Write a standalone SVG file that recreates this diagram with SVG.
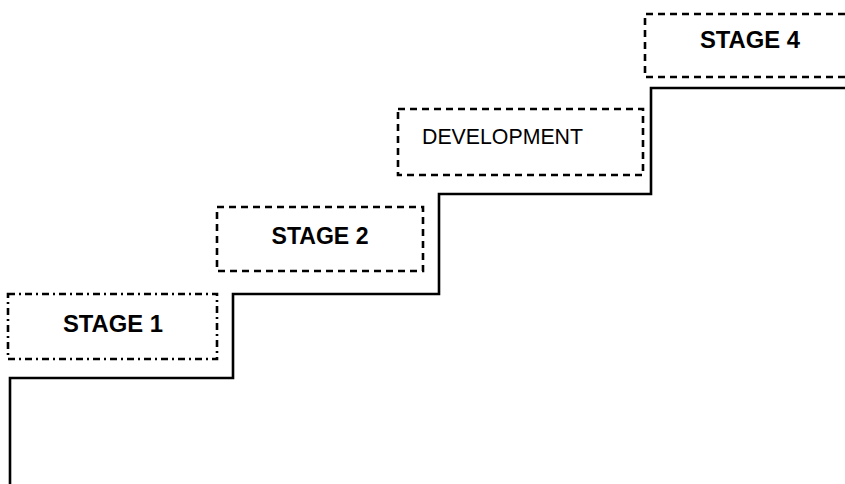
<svg xmlns="http://www.w3.org/2000/svg" width="845" height="484" viewBox="0 0 845 484">
<style>
.box{fill:none;stroke:#000;stroke-width:2.6}
.dash{stroke-dasharray:7 5}
.dashdot{stroke-dasharray:7 4 2 4}
.lbl{font-family:"Liberation Sans",Arial,sans-serif;font-size:24px;font-weight:bold;fill:#000}
.lbl2{font-family:"Liberation Sans",Arial,sans-serif;font-size:22px;fill:#000}
.stair{fill:none;stroke:#000;stroke-width:2.6}
</style>
<rect width="845" height="484" fill="#fff"/>
<g id="connectors">
<path class="stair" d="M10,484 V378 H233 V294 H439 V194 H651 V88 H845"/>
</g>
<g id="stage1">
<rect class="box dashdot" x="8" y="294" width="209" height="65"/>
<text class="lbl" x="113" y="332" text-anchor="middle" textLength="100" lengthAdjust="spacingAndGlyphs">STAGE 1</text>
</g>
<g id="stage2">
<rect class="box dash" x="217" y="207" width="206" height="64"/>
<text class="lbl" x="320" y="244" text-anchor="middle" textLength="97" lengthAdjust="spacingAndGlyphs">STAGE 2</text>
</g>
<g id="development">
<rect class="box dash" x="398" y="109" width="245" height="66"/>
<text class="lbl2" x="422" y="144" textLength="161" lengthAdjust="spacingAndGlyphs">DEVELOPMENT</text>
</g>
<g id="stage4">
<path class="box dash" d="M845,14 H645 V77 H845"/>
<text class="lbl" x="750" y="48" text-anchor="middle" textLength="100" lengthAdjust="spacingAndGlyphs">STAGE 4</text>
</g>
</svg>
